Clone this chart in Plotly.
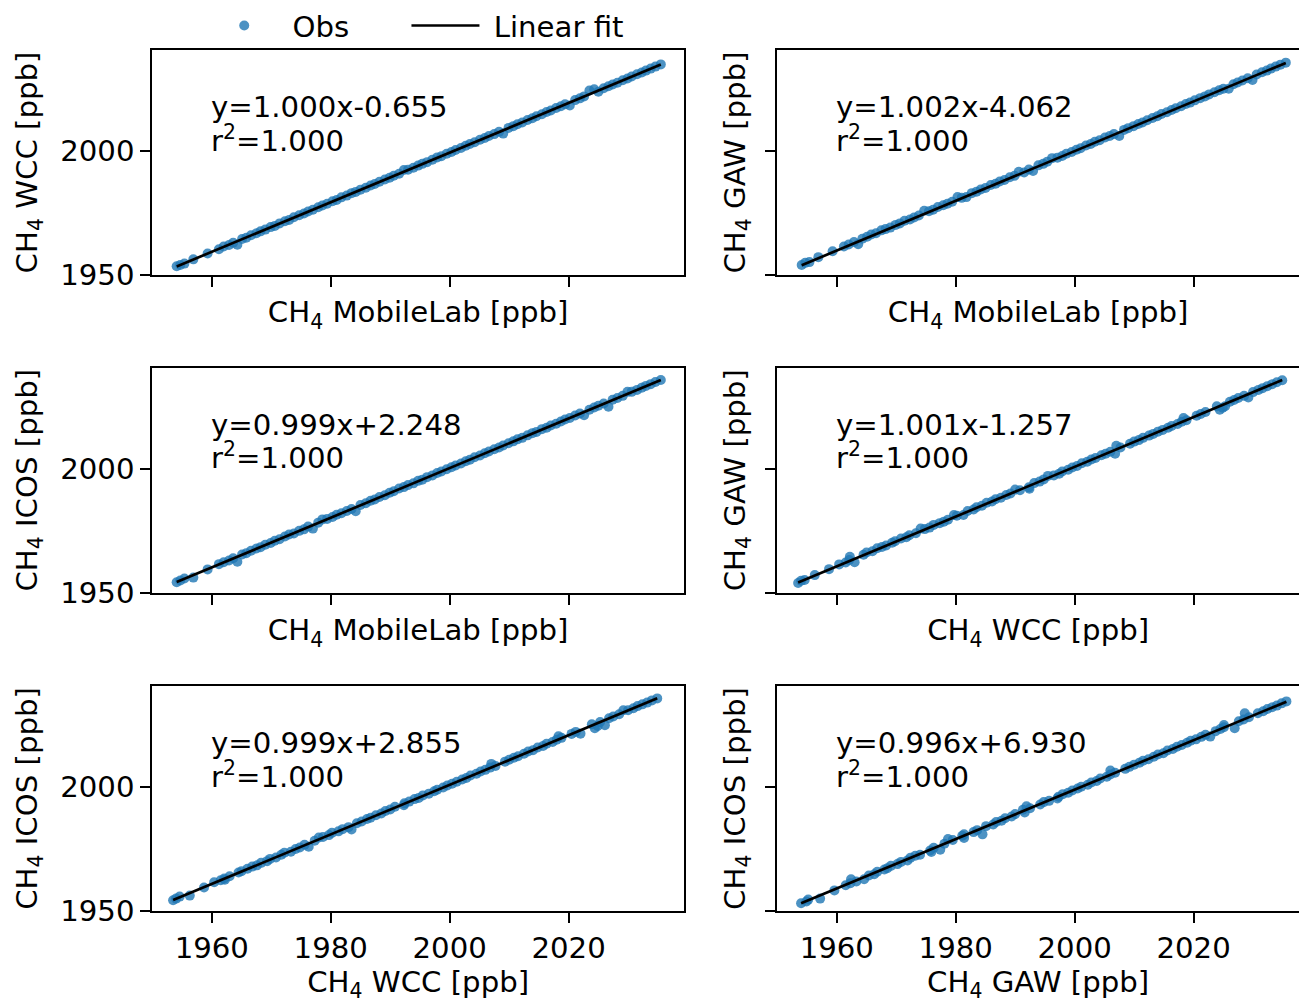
import numpy as np
import plotly.graph_objects as go

# ---------------- data ----------------
mobilelab = [1954.1, 1954.7, 1955.4, 1956.9, 1959.3, 1961.2, 1962.0, 1962.9, 1963.6, 1964.3,
             1965.1, 1965.8, 1966.6, 1967.5, 1968.2, 1969.0, 1969.9, 1970.6, 1971.4, 1972.3,
             1973.0, 1973.8, 1974.7, 1975.5, 1976.2, 1977.0, 1977.9, 1978.6, 1979.4, 1980.3,
             1981.0, 1981.8, 1982.7, 1983.5, 1984.2, 1985.0, 1985.9, 1986.7, 1987.4, 1988.2,
             1989.1, 1989.9, 1990.6, 1991.5, 1992.3, 1993.0, 1993.9, 1994.7, 1995.4, 1996.2,
             1997.1, 1997.9, 1998.6, 1999.5, 2000.3, 2001.0, 2001.9, 2002.7, 2003.4, 2004.2,
             2005.1, 2005.9, 2006.6, 2007.5, 2008.3, 2009.0, 2009.9, 2010.7, 2011.4, 2012.2,
             2013.1, 2013.9, 2014.6, 2015.5, 2016.3, 2017.0, 2017.9, 2018.7, 2019.4, 2020.2,
             2021.1, 2021.9, 2022.6, 2023.5, 2024.3, 2025.0, 2025.9, 2026.7, 2027.4, 2028.2,
             2029.1, 2029.9, 2030.6, 2031.5, 2032.3, 2033.0, 2033.8, 2034.6, 2035.5]
wcc = [1953.5, 1954.0, 1954.6, 1956.3, 1958.7, 1960.4, 1961.5, 1962.1, 1963.0, 1962.2,
       1964.5, 1965.0, 1966.0, 1966.8, 1967.6, 1968.3, 1969.3, 1969.8, 1970.8, 1971.7,
       1972.2, 1973.3, 1974.1, 1974.8, 1975.6, 1976.3, 1977.3, 1978.0, 1978.7, 1979.7,
       1980.2, 1981.3, 1982.0, 1983.0, 1983.5, 1984.4, 1985.2, 1986.1, 1986.7, 1987.6,
       1988.5, 1989.2, 1990.0, 1990.8, 1992.3, 1992.4, 1993.2, 1994.1, 1994.8, 1995.5,
       1996.5, 1997.4, 1997.9, 1998.9, 1999.6, 2000.4, 2001.2, 2002.1, 2002.8, 2003.5,
       2004.5, 2005.2, 2006.0, 2006.8, 2007.7, 2007.0, 2009.3, 2010.0, 2010.8, 2011.5,
       2012.5, 2013.2, 2014.0, 2014.8, 2015.7, 2016.3, 2017.3, 2018.0, 2018.8, 2018.3,
       2020.5, 2021.2, 2022.0, 2024.4, 2024.9, 2023.9, 2025.3, 2026.1, 2026.8, 2027.5,
       2028.5, 2029.2, 2030.0, 2030.9, 2031.6, 2032.4, 2033.2, 2034.0, 2034.9]
gaw = [1954.0, 1954.9, 1955.2, 1957.2, 1959.6, 1961.5, 1962.3, 1963.3, 1962.4, 1964.6,
       1965.4, 1966.3, 1966.8, 1968.0, 1968.5, 1969.1, 1970.2, 1970.8, 1971.9, 1972.4,
       1973.2, 1974.0, 1975.9, 1975.7, 1976.3, 1977.4, 1978.1, 1978.7, 1979.5, 1981.4,
       1981.1, 1981.4, 1983.0, 1983.6, 1984.5, 1985.1, 1986.3, 1986.8, 1987.7, 1988.3,
       1989.4, 1990.0, 1991.6, 1991.3, 1992.5, 1991.9, 1994.2, 1994.8, 1995.7, 1997.1,
       1997.3, 1998.0, 1998.9, 1999.6, 2000.5, 2001.1, 2002.2, 2002.8, 2003.7, 2004.3,
       2005.4, 2006.0, 2006.8, 2006.0, 2008.5, 2009.2, 2010.0, 2010.9, 2011.5, 2012.4,
       2013.3, 2014.0, 2014.9, 2015.6, 2016.5, 2017.2, 2018.0, 2018.9, 2019.5, 2020.4,
       2021.3, 2022.0, 2022.8, 2023.7, 2024.5, 2025.1, 2025.1, 2026.9, 2027.6, 2028.4,
       2029.3, 2028.6, 2030.8, 2031.7, 2032.4, 2033.2, 2034.0, 2034.8, 2035.6]
icos = [1954.3, 1955.0, 1955.8, 1956.2, 1959.5, 1961.6, 1962.4, 1963.1, 1964.0, 1962.6,
        1965.5, 1966.0, 1967.0, 1967.9, 1968.4, 1969.4, 1970.1, 1971.0, 1971.6, 1972.7,
        1973.5, 1973.9, 1975.0, 1975.6, 1976.7, 1975.9, 1978.3, 1979.6, 1979.8, 1980.6,
        1981.5, 1982.1, 1983.0, 1983.8, 1982.9, 1985.4, 1986.1, 1987.1, 1987.6, 1988.6,
        1989.3, 1990.3, 1990.9, 1992.0, 1992.6, 1993.4, 1994.1, 1995.1, 1995.6, 1996.6,
        1997.3, 1998.3, 1998.9, 1999.8, 2000.6, 2001.3, 2002.1, 2003.0, 2003.6, 2004.6,
        2005.3, 2006.2, 2006.9, 2007.8, 2008.5, 2009.3, 2010.2, 2011.0, 2011.8, 2012.4,
        2013.4, 2014.3, 2014.8, 2015.9, 2016.5, 2017.4, 2018.1, 2019.0, 2019.8, 2020.4,
        2021.4, 2022.2, 2021.5, 2023.7, 2024.6, 2025.3, 2026.2, 2024.9, 2027.7, 2028.4,
        2029.3, 2030.9, 2030.9, 2031.7, 2032.6, 2033.3, 2034.0, 2034.9, 2035.7]
# ICOS values in the GAW/ICOS overlap period (last panel)
icos_gaw_period = [1953.1, 1953.8, 1954.6, 1955.0, 1958.3, 1960.4, 1961.2, 1961.9, 1962.8, 1962.8,
                   1964.3, 1964.8, 1965.8, 1966.7, 1967.2, 1968.2, 1968.9, 1969.8, 1970.4, 1971.5,
                   1972.3, 1972.7, 1973.8, 1974.4, 1975.5, 1974.7, 1977.1, 1979.0, 1978.6, 1979.4,
                   1980.3, 1980.9, 1981.8, 1982.6, 1980.9, 1984.2, 1984.9, 1985.9, 1986.4, 1987.4,
                   1988.1, 1989.1, 1989.7, 1990.8, 1991.4, 1992.2, 1992.9, 1993.9, 1994.4, 1995.4,
                   1996.1, 1997.1, 1997.7, 1998.6, 1999.4, 2000.1, 2000.9, 2001.8, 2002.4, 2003.4,
                   2004.1, 2005.0, 2005.7, 2006.6, 2007.3, 2008.1, 2009.0, 2009.8, 2010.6, 2011.2,
                   2012.2, 2013.1, 2013.6, 2014.7, 2015.3, 2016.2, 2016.9, 2017.8, 2018.6, 2019.2,
                   2020.2, 2021.0, 2020.3, 2022.5, 2023.4, 2024.1, 2025.0, 2023.7, 2026.5, 2027.2,
                   2028.1, 2029.7, 2029.7, 2030.5, 2031.4, 2032.1, 2032.8, 2033.7, 2034.5]

panel_x_name = ["MobileLab", "MobileLab", "MobileLab", "WCC", "WCC", "GAW"]
panel_y_name = ["WCC", "GAW", "ICOS", "GAW", "ICOS", "ICOS"]
panel_x_data = [mobilelab, mobilelab, mobilelab, wcc, wcc, gaw]
panel_y_data = [wcc, gaw, icos, gaw, icos, icos_gaw_period]
slopes = [1.000, 1.002, 0.999, 1.001, 0.999, 0.996]
intercepts = [-0.655, -4.062, 2.248, -1.257, 2.855, 6.930]
r2_values = [1.000, 1.000, 1.000, 1.000, 1.000, 1.000]
legend_names = ["Obs", "Linear fit"]
x_ticks = [1960, 1980, 2000, 2020]
y_ticks = [1950, 2000]

# ---------------- layout geometry ----------------
W, H = 1299, 1003
FONT = "DejaVu Sans"
FS = 29.2
NB = "\u00a0"
col_px = [(152.3, 684.0), (777.3, 1299.0)]
row_px = [(50.0, 275.0), (367.5, 593.0), (686.0, 911.0)]
x_lo, x_hi_left = 1950.0, 2039.4
scale = (col_px[0][1] - col_px[0][0]) / (x_hi_left - x_lo)
x_ranges = [[x_lo, x_hi_left], [x_lo, x_lo + (col_px[1][1] - col_px[1][0]) / scale]]
y_range = [1950.0, 2040.7]

fig = go.Figure()
layout = dict(width=W, height=H, autosize=False, margin=dict(l=0, r=0, t=0, b=0, pad=0, autoexpand=False),
              paper_bgcolor="white", plot_bgcolor="white",
              font=dict(family=FONT, size=FS, color="black"),
              showlegend=True,
              legend=dict(orientation="h", x=0.158, y=1.0, xanchor="left", yanchor="top",
                          font=dict(size=FS), bgcolor="rgba(0,0,0,0)", itemwidth=68,
                          tracegroupgap=0))
annotations = []
for i in range(6):
    r, c = divmod(i, 2)
    k = i + 1
    xs = np.array(panel_x_data[i])
    ys = np.array(panel_y_data[i])
    xa = "x" if k == 1 else f"x{k}"
    ya = "y" if k == 1 else f"y{k}"
    fig.add_trace(go.Scatter(x=xs, y=ys, mode="markers",
                             name=NB + legend_names[0] + NB * 5 + "\u2009",
                             marker=dict(color="#1f77b4", size=10, opacity=0.8),
                             xaxis=xa, yaxis=ya, showlegend=(i == 0)))
    xl = np.array([xs.min(), xs.max()])
    fig.add_trace(go.Scatter(x=xl, y=slopes[i] * xl + intercepts[i], mode="lines",
                             name=NB + legend_names[1], line=dict(color="black", width=2.7),
                             xaxis=xa, yaxis=ya, showlegend=(i == 0)))
    x0, x1 = col_px[c]
    y0, y1 = row_px[r]
    bottom = (r == 2)
    layout[f"xaxis{k}"] = dict(
        domain=[x0 / W, x1 / W], anchor=ya, range=x_ranges[c], automargin=False,
        tickvals=x_ticks, showticklabels=bottom, ticks="outside", ticklen=10, tickwidth=2,
        tickcolor="black", showline=True, linecolor="black", linewidth=2, mirror=True,
        showgrid=False, zeroline=False, tickfont=dict(size=FS),
        title=dict(text=f"CH<sub>4</sub> {panel_x_name[i]} [ppb]", font=dict(size=FS),
                   standoff=19 if bottom else 16))
    layout[f"yaxis{k}"] = dict(
        domain=[1 - y1 / H, 1 - y0 / H], anchor=xa, range=y_range, automargin=False,
        tickvals=y_ticks, showticklabels=(c == 0), ticks="outside", ticklen=10, tickwidth=2,
        tickcolor="black", showline=True, linecolor="black", linewidth=2,
        mirror=(c == 0), showgrid=False, zeroline=False, tickfont=dict(size=FS),
        title=dict(text=f"CH<sub>4</sub> {panel_y_name[i]} [ppb]", font=dict(size=FS),
                   standoff=14 if c == 0 else 11))
    annotations.append(dict(xref=xa, yref=ya, x=1959.5, y=2017.7, xanchor="left", yanchor="middle",
                            text=f"y={slopes[i]:.3f}x{intercepts[i]:+.3f}", showarrow=False,
                            font=dict(size=FS, family=FONT)))
    annotations.append(dict(xref=xa, yref=ya, x=1959.5, y=2005.0, xanchor="left", yanchor="middle",
                            text=f"r<sup>2</sup>={r2_values[i]:.3f}", showarrow=False,
                            font=dict(size=FS, family=FONT)))
layout["annotations"] = annotations
layout["xaxis"] = layout.pop("xaxis1")
layout["yaxis"] = layout.pop("yaxis1")
fig.update_layout(**layout)
fig.write_html("out.html", config={"responsive": False})
